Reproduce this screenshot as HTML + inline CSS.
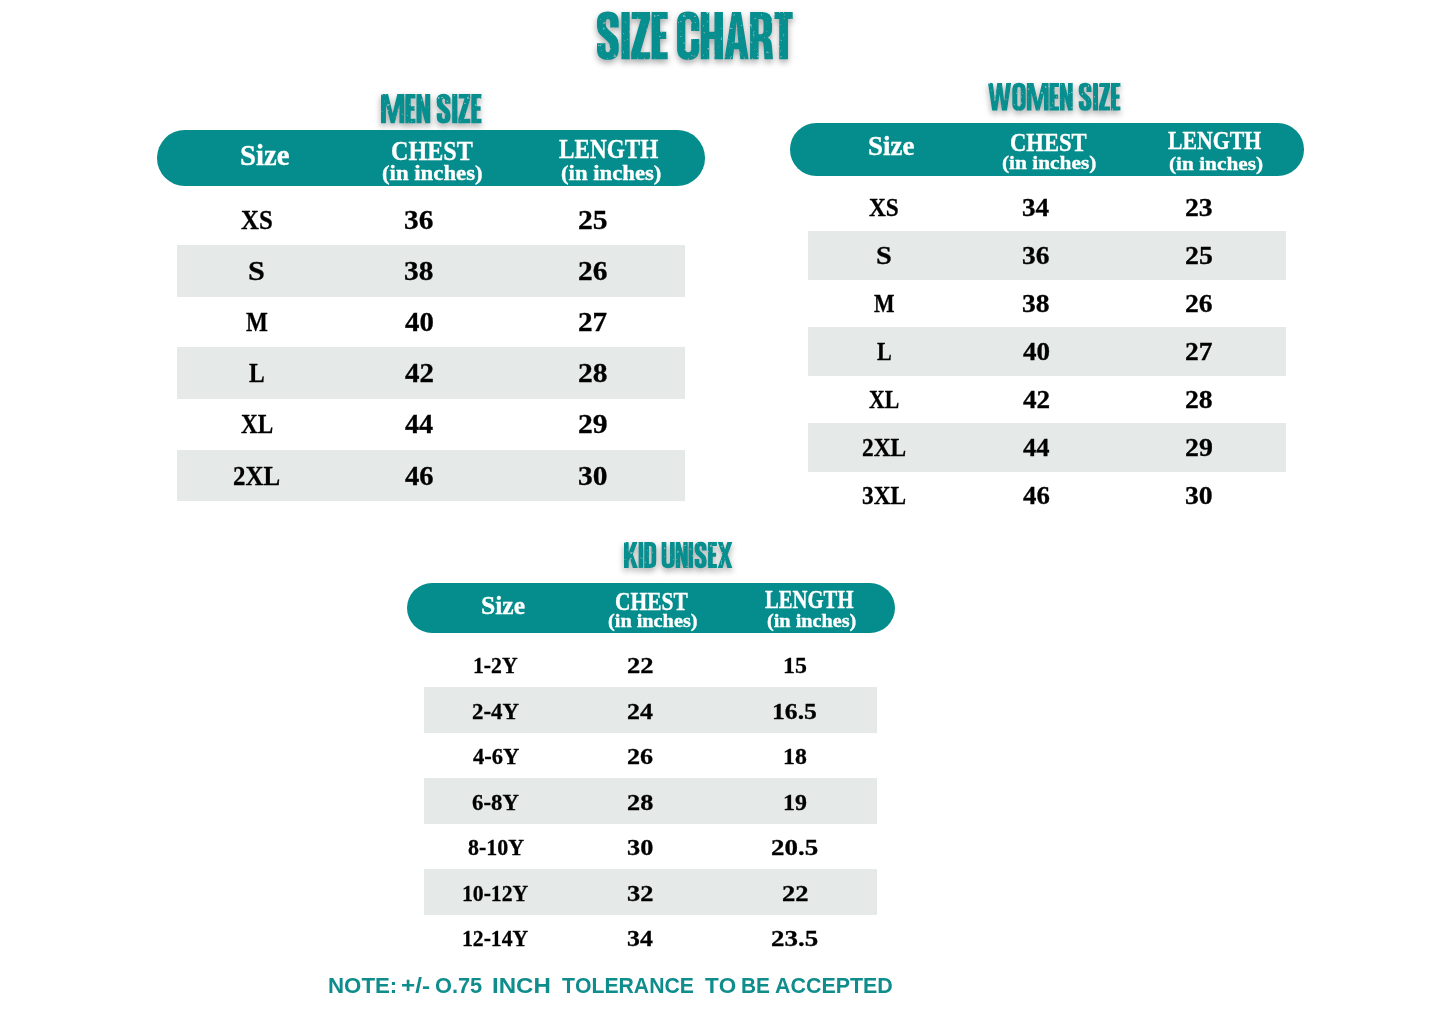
<!DOCTYPE html>
<html><head><meta charset="utf-8"><title>Size Chart</title>
<style>
html,body{margin:0;padding:0;background:#fff}
body{width:1445px;height:1022px;position:relative;overflow:hidden;font-kerning:none}
.t{position:absolute;white-space:pre;line-height:1;transform-origin:0 0;font-weight:700;display:block}
.w{-webkit-text-stroke:0.35px #fff}.k{-webkit-text-stroke:0.3px #000}
.se{font-family:"Liberation Serif",serif}
.sa{font-family:"Liberation Sans",sans-serif}
.b{position:absolute}
.d{position:absolute;overflow:visible;filter:url(#gr) drop-shadow(0.5px 3px 3px rgba(0,0,0,.36))}
</style></head><body>
<svg width="0" height="0" style="position:absolute"><defs>
<filter id="gr" x="0" y="0" width="1" height="1" color-interpolation-filters="sRGB">
<feTurbulence type="fractalNoise" baseFrequency="0.3" numOctaves="2" seed="7" result="n"/>
<feColorMatrix in="n" type="matrix" values="0 0 0 0 0  0 0 0 0 0  0 0 0 0 0  0 0 0 -12 9.35" result="m0"/>
<feColorMatrix in="m0" type="matrix" values="0 0 0 0 0  0 0 0 0 0  0 0 0 0 0  0 0 0 0.6 0.4" result="m"/>
<feComposite in="SourceGraphic" in2="m" operator="in"/>
</filter></defs></svg>
<svg class="d" style="left:583.40px;top:-2.10px" width="223.70" height="75.30" viewBox="-29.638 -29.598 473.576 159.197" preserveAspectRatio="none"><g fill="#078e8e" fill-rule="evenodd"><path transform="translate(0,0)" d="M46,33H28V22Q28,15 23.25,15Q18.5,15 18.5,22V26Q18.5,32 24,37L39,51Q46,58 46,71V78Q46,101 23,101Q0,101 0,78V66H18V78Q18,85 22.75,85Q27.5,85 27.5,78V73Q27.5,67 22,62L7,48Q0,41 0,29V22Q0,-1 23,-1Q46,-1 46,22Z"/><path transform="translate(51.7,0)" d="M0,0h17.5v100h-17.5z"/><path transform="translate(72.4,0)" d="M1,0H40V15L19.5,85H40V100H0V85L20.5,15H1Z"/><path transform="translate(115.6,0)" d="M0,0H34V15H18V42H31V57H18V85H34V100H0Z"/><path transform="translate(169.5,0)" d="M47,40V23Q47,-1 23.5,-1Q0,-1 0,23V77Q0,101 23.5,101Q47,101 47,77V57H30V78Q30,85 23.75,85Q17.5,85 17.5,78V22Q17.5,15 23.75,15Q30,15 30,22V40Z"/><path transform="translate(219.7,0)" d="M0,0H18V42H29V0H47V100H29V57H18V100H0Z"/><path transform="translate(269.9,0)" d="M16,0H35L51,100H33.5L31,79H20L17.5,100H0ZM25.5,20L21.5,65H29.5Z"/><path transform="translate(324.1,0)" d="M0,0H26Q46.5,0 46.5,22V36Q46.5,50 37,54Q45.5,58 46,70L48.5,100H30.5L28.5,70Q28,62 22,62H18V100H0ZM18,15V47H22Q28.5,47 28.5,40V22Q28.5,15 22,15Z"/><path transform="translate(375.8,0)" d="M0,0H38.5V15H28.5V100H10V15H0Z"/></g></svg>
<svg class="d" style="left:366.80px;top:79.70px" width="128.50" height="57.20" viewBox="-46.722 -47.945 428.845 195.890" preserveAspectRatio="none"><g fill="#078e8e" fill-rule="evenodd"><path transform="translate(0,0)" d="M0,0H23.5L39,66L54.5,0H78V100H61.5V36L45.5,100H32.5L16.5,36V100H0Z"/><path transform="translate(81.2,0)" d="M0,0H34V15H18V42H31V57H18V85H34V100H0Z"/><path transform="translate(118.4,0)" d="M0,0H16.5L29,50V0H46V100H29.5L17,52V100H0Z"/><path transform="translate(185.8,0)" d="M46,33H28V22Q28,15 23.25,15Q18.5,15 18.5,22V26Q18.5,32 24,37L39,51Q46,58 46,71V78Q46,101 23,101Q0,101 0,78V66H18V78Q18,85 22.75,85Q27.5,85 27.5,78V73Q27.5,67 22,62L7,48Q0,41 0,29V22Q0,-1 23,-1Q46,-1 46,22Z"/><path transform="translate(237.5,0)" d="M0,0h17.5v100h-17.5z"/><path transform="translate(258.2,0)" d="M1,0H40V15L19.5,85H40V100H0V85L20.5,15H1Z"/><path transform="translate(301.4,0)" d="M0,0H34V15H18V42H31V57H18V85H34V100H0Z"/></g></svg>
<svg class="d" style="left:974.30px;top:68.50px" width="160.40" height="55.50" viewBox="-50.205 -50.909 575.211 201.818" preserveAspectRatio="none"><g fill="#078e8e" fill-rule="evenodd"><path transform="translate(0,0)" d="M0,0H17.5L25,66L33,0H50L58,66L65.5,0H83L68,100H50L41.5,42L33,100H15Z"/><path transform="translate(87.2,0)" d="M24,-1Q48,-1 48,23V77Q48,101 24,101Q0,101 0,77V23Q0,-1 24,-1ZM24,15Q18,15 18,22V78Q18,85 24,85Q30,85 30,78V22Q30,15 24,15Z"/><path transform="translate(139.4,0)" d="M0,0H23.5L39,66L54.5,0H78V100H61.5V36L45.5,100H32.5L16.5,36V100H0Z"/><path transform="translate(220.6,0)" d="M0,0H34V15H18V42H31V57H18V85H34V100H0Z"/><path transform="translate(257.8,0)" d="M0,0H16.5L29,50V0H46V100H29.5L17,52V100H0Z"/><path transform="translate(325.2,0)" d="M46,33H28V22Q28,15 23.25,15Q18.5,15 18.5,22V26Q18.5,32 24,37L39,51Q46,58 46,71V78Q46,101 23,101Q0,101 0,78V66H18V78Q18,85 22.75,85Q27.5,85 27.5,78V73Q27.5,67 22,62L7,48Q0,41 0,29V22Q0,-1 23,-1Q46,-1 46,22Z"/><path transform="translate(376.9,0)" d="M0,0h17.5v100h-17.5z"/><path transform="translate(397.6,0)" d="M1,0H40V15L19.5,85H40V100H0V85L20.5,15H1Z"/><path transform="translate(440.8,0)" d="M0,0H34V15H18V42H31V57H18V85H34V100H0Z"/></g></svg>
<svg class="d" style="left:609.80px;top:527.90px" width="136.30" height="53.90" viewBox="-53.815 -54.054 523.931 208.108" preserveAspectRatio="none"><g fill="#078e8e" fill-rule="evenodd"><path transform="translate(0,0)" d="M0,0H18V42L33,0H52L34,47L53,100H34L23,63L18,74V100H0Z"/><path transform="translate(56.2,0)" d="M0,0h17.5v100h-17.5z"/><path transform="translate(77.9,0)" d="M0,0H22Q46,0 46,23V77Q46,100 22,100H0ZM18,15V85H22Q28,85 28,78V22Q28,15 22,15Z"/><path transform="translate(144.8,0)" d="M0,0H18V77Q18,85 25,85Q32,85 32,77V0H50V77Q50,101 25,101Q0,101 0,77Z"/><path transform="translate(199,0)" d="M0,0H16.5L29,50V0H46V100H29.5L17,52V100H0Z"/><path transform="translate(248.2,0)" d="M0,0h17.5v100h-17.5z"/><path transform="translate(271.4,0)" d="M46,33H28V22Q28,15 23.25,15Q18.5,15 18.5,22V26Q18.5,32 24,37L39,51Q46,58 46,71V78Q46,101 23,101Q0,101 0,78V66H18V78Q18,85 22.75,85Q27.5,85 27.5,78V73Q27.5,67 22,62L7,48Q0,41 0,29V22Q0,-1 23,-1Q46,-1 46,22Z"/><path transform="translate(323.1,0)" d="M0,0H34V15H18V42H31V57H18V85H34V100H0Z"/><path transform="translate(360.3,0)" d="M0,0H19L28,30L37,0H56L38,49L56,100H37L28,68L19,100H0L18,49Z"/></g></svg>
<div class="b" style="left:176.50px;top:245.20px;width:508.40px;height:51.80px;background:#e5eae8;border-radius:0.00px"></div>
<div class="b" style="left:176.50px;top:347.40px;width:508.40px;height:51.80px;background:#e5eae8;border-radius:0.00px"></div>
<div class="b" style="left:176.50px;top:449.60px;width:508.40px;height:51.80px;background:#e5eae8;border-radius:0.00px"></div>
<div class="b" style="left:156.80px;top:130.30px;width:548.00px;height:55.70px;background:#058c8c;border-radius:27.85px"></div>
<span class="t se w" style="left:239.77px;top:141.39px;font-size:29.03px;color:#fff;transform:scaleX(0.9897)">Size</span>
<span class="t se w" style="left:391.02px;top:138.18px;font-size:27.49px;color:#fff;transform:scaleX(0.8771)">CHEST</span>
<span class="t se w" style="left:382.20px;top:162.73px;font-size:21.11px;color:#fff;transform:scaleX(1.0792)">(in inches)</span>
<span class="t se w" style="left:559.40px;top:136.04px;font-size:27.18px;color:#fff;transform:scaleX(0.8544)">LENGTH</span>
<span class="t se w" style="left:560.80px;top:163.23px;font-size:21.11px;color:#fff;transform:scaleX(1.0770)">(in inches)</span>
<span class="t se k" style="left:241.04px;top:207.09px;font-size:26.88px;color:#000;transform:scaleX(0.9230)">XS</span>
<span class="t se k" style="left:404.35px;top:207.09px;font-size:26.88px;color:#000;transform:scaleX(1.0885)">36</span>
<span class="t se k" style="left:577.91px;top:207.09px;font-size:26.88px;color:#000;transform:scaleX(1.1023)">25</span>
<span class="t se k" style="left:248.04px;top:258.19px;font-size:26.88px;color:#000;transform:scaleX(1.1231)">S</span>
<span class="t se k" style="left:404.35px;top:258.19px;font-size:26.88px;color:#000;transform:scaleX(1.0930)">38</span>
<span class="t se k" style="left:577.92px;top:258.19px;font-size:26.88px;color:#000;transform:scaleX(1.0936)">26</span>
<span class="t se k" style="left:245.80px;top:309.29px;font-size:26.88px;color:#000;transform:scaleX(0.8618)">M</span>
<span class="t se k" style="left:405.06px;top:309.29px;font-size:26.88px;color:#000;transform:scaleX(1.0711)">40</span>
<span class="t se k" style="left:577.92px;top:309.29px;font-size:26.88px;color:#000;transform:scaleX(1.0879)">27</span>
<span class="t se k" style="left:249.05px;top:360.39px;font-size:26.88px;color:#000;transform:scaleX(0.8752)">L</span>
<span class="t se k" style="left:405.05px;top:360.39px;font-size:26.88px;color:#000;transform:scaleX(1.0766)">42</span>
<span class="t se k" style="left:577.91px;top:360.39px;font-size:26.88px;color:#000;transform:scaleX(1.0982)">28</span>
<span class="t se k" style="left:240.77px;top:411.49px;font-size:26.88px;color:#000;transform:scaleX(0.8625)">XL</span>
<span class="t se k" style="left:405.06px;top:411.49px;font-size:26.88px;color:#000;transform:scaleX(1.0495)">44</span>
<span class="t se k" style="left:577.91px;top:411.49px;font-size:26.88px;color:#000;transform:scaleX(1.1017)">29</span>
<span class="t se k" style="left:233.05px;top:462.59px;font-size:26.88px;color:#000;transform:scaleX(0.9274)">2XL</span>
<span class="t se k" style="left:405.06px;top:462.59px;font-size:26.88px;color:#000;transform:scaleX(1.0613)">46</span>
<span class="t se k" style="left:578.04px;top:462.59px;font-size:26.88px;color:#000;transform:scaleX(1.0988)">30</span>
<div class="b" style="left:808.48px;top:231.11px;width:477.04px;height:48.61px;background:#e5eae8;border-radius:0.00px"></div>
<div class="b" style="left:808.48px;top:327.01px;width:477.04px;height:48.61px;background:#e5eae8;border-radius:0.00px"></div>
<div class="b" style="left:808.48px;top:422.91px;width:477.04px;height:48.61px;background:#e5eae8;border-radius:0.00px"></div>
<div class="b" style="left:790.00px;top:123.00px;width:514.20px;height:52.60px;background:#058c8c;border-radius:26.30px"></div>
<span class="t se w" style="left:867.85px;top:133.16px;font-size:27.24px;color:#fff;transform:scaleX(0.9897)">Size</span>
<span class="t se w" style="left:1009.78px;top:130.15px;font-size:25.79px;color:#fff;transform:scaleX(0.8771)">CHEST</span>
<span class="t se w" style="left:1001.50px;top:153.18px;font-size:19.80px;color:#fff;transform:scaleX(1.0792)">(in inches)</span>
<span class="t se w" style="left:1167.77px;top:128.14px;font-size:25.51px;color:#fff;transform:scaleX(0.8544)">LENGTH</span>
<span class="t se w" style="left:1169.08px;top:153.65px;font-size:19.80px;color:#fff;transform:scaleX(1.0770)">(in inches)</span>
<span class="t se k" style="left:869.04px;top:195.07px;font-size:25.22px;color:#000;transform:scaleX(0.9230)">XS</span>
<span class="t se k" style="left:1022.29px;top:195.07px;font-size:25.22px;color:#000;transform:scaleX(1.0761)">34</span>
<span class="t se k" style="left:1185.14px;top:195.07px;font-size:25.22px;color:#000;transform:scaleX(1.0994)">23</span>
<span class="t se k" style="left:875.62px;top:243.02px;font-size:25.22px;color:#000;transform:scaleX(1.1231)">S</span>
<span class="t se k" style="left:1022.28px;top:243.02px;font-size:25.22px;color:#000;transform:scaleX(1.0885)">36</span>
<span class="t se k" style="left:1185.13px;top:243.02px;font-size:25.22px;color:#000;transform:scaleX(1.1023)">25</span>
<span class="t se k" style="left:873.51px;top:290.97px;font-size:25.22px;color:#000;transform:scaleX(0.8618)">M</span>
<span class="t se k" style="left:1022.28px;top:290.97px;font-size:25.22px;color:#000;transform:scaleX(1.0930)">38</span>
<span class="t se k" style="left:1185.14px;top:290.97px;font-size:25.22px;color:#000;transform:scaleX(1.0936)">26</span>
<span class="t se k" style="left:876.56px;top:338.92px;font-size:25.22px;color:#000;transform:scaleX(0.8752)">L</span>
<span class="t se k" style="left:1022.94px;top:338.92px;font-size:25.22px;color:#000;transform:scaleX(1.0711)">40</span>
<span class="t se k" style="left:1185.15px;top:338.92px;font-size:25.22px;color:#000;transform:scaleX(1.0879)">27</span>
<span class="t se k" style="left:868.79px;top:386.87px;font-size:25.22px;color:#000;transform:scaleX(0.8625)">XL</span>
<span class="t se k" style="left:1022.94px;top:386.87px;font-size:25.22px;color:#000;transform:scaleX(1.0766)">42</span>
<span class="t se k" style="left:1185.14px;top:386.87px;font-size:25.22px;color:#000;transform:scaleX(1.0982)">28</span>
<span class="t se k" style="left:861.55px;top:434.81px;font-size:25.22px;color:#000;transform:scaleX(0.9274)">2XL</span>
<span class="t se k" style="left:1022.95px;top:434.81px;font-size:25.22px;color:#000;transform:scaleX(1.0495)">44</span>
<span class="t se k" style="left:1185.13px;top:434.81px;font-size:25.22px;color:#000;transform:scaleX(1.1017)">29</span>
<span class="t se k" style="left:861.65px;top:482.76px;font-size:25.22px;color:#000;transform:scaleX(0.9252)">3XL</span>
<span class="t se k" style="left:1022.95px;top:482.76px;font-size:25.22px;color:#000;transform:scaleX(1.0613)">46</span>
<span class="t se k" style="left:1185.26px;top:482.76px;font-size:25.22px;color:#000;transform:scaleX(1.0988)">30</span>
<div class="b" style="left:424.34px;top:687.22px;width:452.74px;height:46.13px;background:#e5eae8;border-radius:0.00px"></div>
<div class="b" style="left:424.34px;top:778.23px;width:452.74px;height:46.13px;background:#e5eae8;border-radius:0.00px"></div>
<div class="b" style="left:424.34px;top:869.24px;width:452.74px;height:46.13px;background:#e5eae8;border-radius:0.00px"></div>
<div class="b" style="left:406.80px;top:583.00px;width:488.00px;height:50.00px;background:#058c8c;border-radius:25.00px"></div>
<span class="t se w" style="left:480.69px;top:592.87px;font-size:25.85px;color:#fff;transform:scaleX(0.9897)">Size</span>
<span class="t se w" style="left:615.38px;top:590.02px;font-size:24.48px;color:#fff;transform:scaleX(0.8771)">CHEST</span>
<span class="t se w" style="left:607.52px;top:611.87px;font-size:18.79px;color:#fff;transform:scaleX(1.0792)">(in inches)</span>
<span class="t se w" style="left:765.32px;top:588.11px;font-size:24.21px;color:#fff;transform:scaleX(0.8544)">LENGTH</span>
<span class="t se w" style="left:766.57px;top:612.32px;font-size:18.79px;color:#fff;transform:scaleX(1.0770)">(in inches)</span>
<span class="t se k" style="left:472.70px;top:654.32px;font-size:23.94px;color:#000;transform:scaleX(0.9072)">1-2Y</span>
<span class="t se k" style="left:627.11px;top:654.32px;font-size:23.94px;color:#000;transform:scaleX(1.1100)">22</span>
<span class="t se k" style="left:782.60px;top:654.32px;font-size:23.94px;color:#000;transform:scaleX(0.9982)">15</span>
<span class="t se k" style="left:471.87px;top:699.82px;font-size:23.94px;color:#000;transform:scaleX(0.9571)">2-4Y</span>
<span class="t se k" style="left:627.14px;top:699.82px;font-size:23.94px;color:#000;transform:scaleX(1.0811)">24</span>
<span class="t se k" style="left:772.08px;top:699.82px;font-size:23.94px;color:#000;transform:scaleX(1.0706)">16.5</span>
<span class="t se k" style="left:472.52px;top:745.33px;font-size:23.94px;color:#000;transform:scaleX(0.9437)">4-6Y</span>
<span class="t se k" style="left:627.13px;top:745.33px;font-size:23.94px;color:#000;transform:scaleX(1.0936)">26</span>
<span class="t se k" style="left:782.60px;top:745.33px;font-size:23.94px;color:#000;transform:scaleX(0.9944)">18</span>
<span class="t se k" style="left:472.05px;top:790.83px;font-size:23.94px;color:#000;transform:scaleX(0.9533)">6-8Y</span>
<span class="t se k" style="left:627.12px;top:790.83px;font-size:23.94px;color:#000;transform:scaleX(1.0982)">28</span>
<span class="t se k" style="left:782.60px;top:790.83px;font-size:23.94px;color:#000;transform:scaleX(0.9977)">19</span>
<span class="t se k" style="left:467.52px;top:836.34px;font-size:23.94px;color:#000;transform:scaleX(0.9156)">8-10Y</span>
<span class="t se k" style="left:627.24px;top:836.34px;font-size:23.94px;color:#000;transform:scaleX(1.0988)">30</span>
<span class="t se k" style="left:771.40px;top:836.34px;font-size:23.94px;color:#000;transform:scaleX(1.1263)">20.5</span>
<span class="t se k" style="left:461.92px;top:881.84px;font-size:23.94px;color:#000;transform:scaleX(0.9049)">10-12Y</span>
<span class="t se k" style="left:627.23px;top:881.84px;font-size:23.94px;color:#000;transform:scaleX(1.1047)">32</span>
<span class="t se k" style="left:781.79px;top:881.84px;font-size:23.94px;color:#000;transform:scaleX(1.1100)">22</span>
<span class="t se k" style="left:461.92px;top:927.35px;font-size:23.94px;color:#000;transform:scaleX(0.9049)">12-14Y</span>
<span class="t se k" style="left:627.26px;top:927.35px;font-size:23.94px;color:#000;transform:scaleX(1.0761)">34</span>
<span class="t se k" style="left:771.40px;top:927.35px;font-size:23.94px;color:#000;transform:scaleX(1.1263)">23.5</span>
<span class="t sa n" style="left:328.01px;top:973.76px;font-size:22.97px;color:#0f8c8c;transform:scaleX(0.9690)">NOTE:</span>
<span class="t sa n" style="left:401.18px;top:973.76px;font-size:22.97px;color:#0f8c8c;transform:scaleX(1.0565)">+/-</span>
<span class="t sa n" style="left:434.91px;top:973.76px;font-size:22.97px;color:#0f8c8c;transform:scaleX(0.9480)">O.75</span>
<span class="t sa n" style="left:492.39px;top:973.76px;font-size:22.97px;color:#0f8c8c;transform:scaleX(1.0480)">INCH</span>
<span class="t sa n" style="left:561.86px;top:973.76px;font-size:22.97px;color:#0f8c8c;transform:scaleX(0.9228)">TOLERANCE</span>
<span class="t sa n" style="left:705.05px;top:973.76px;font-size:22.97px;color:#0f8c8c;transform:scaleX(0.9782)">TO</span>
<span class="t sa n" style="left:740.81px;top:973.76px;font-size:22.97px;color:#0f8c8c;transform:scaleX(0.9060)">BE</span>
<span class="t sa n" style="left:774.57px;top:973.76px;font-size:22.97px;color:#0f8c8c;transform:scaleX(0.9320)">ACCEPTED</span>
</body></html>
